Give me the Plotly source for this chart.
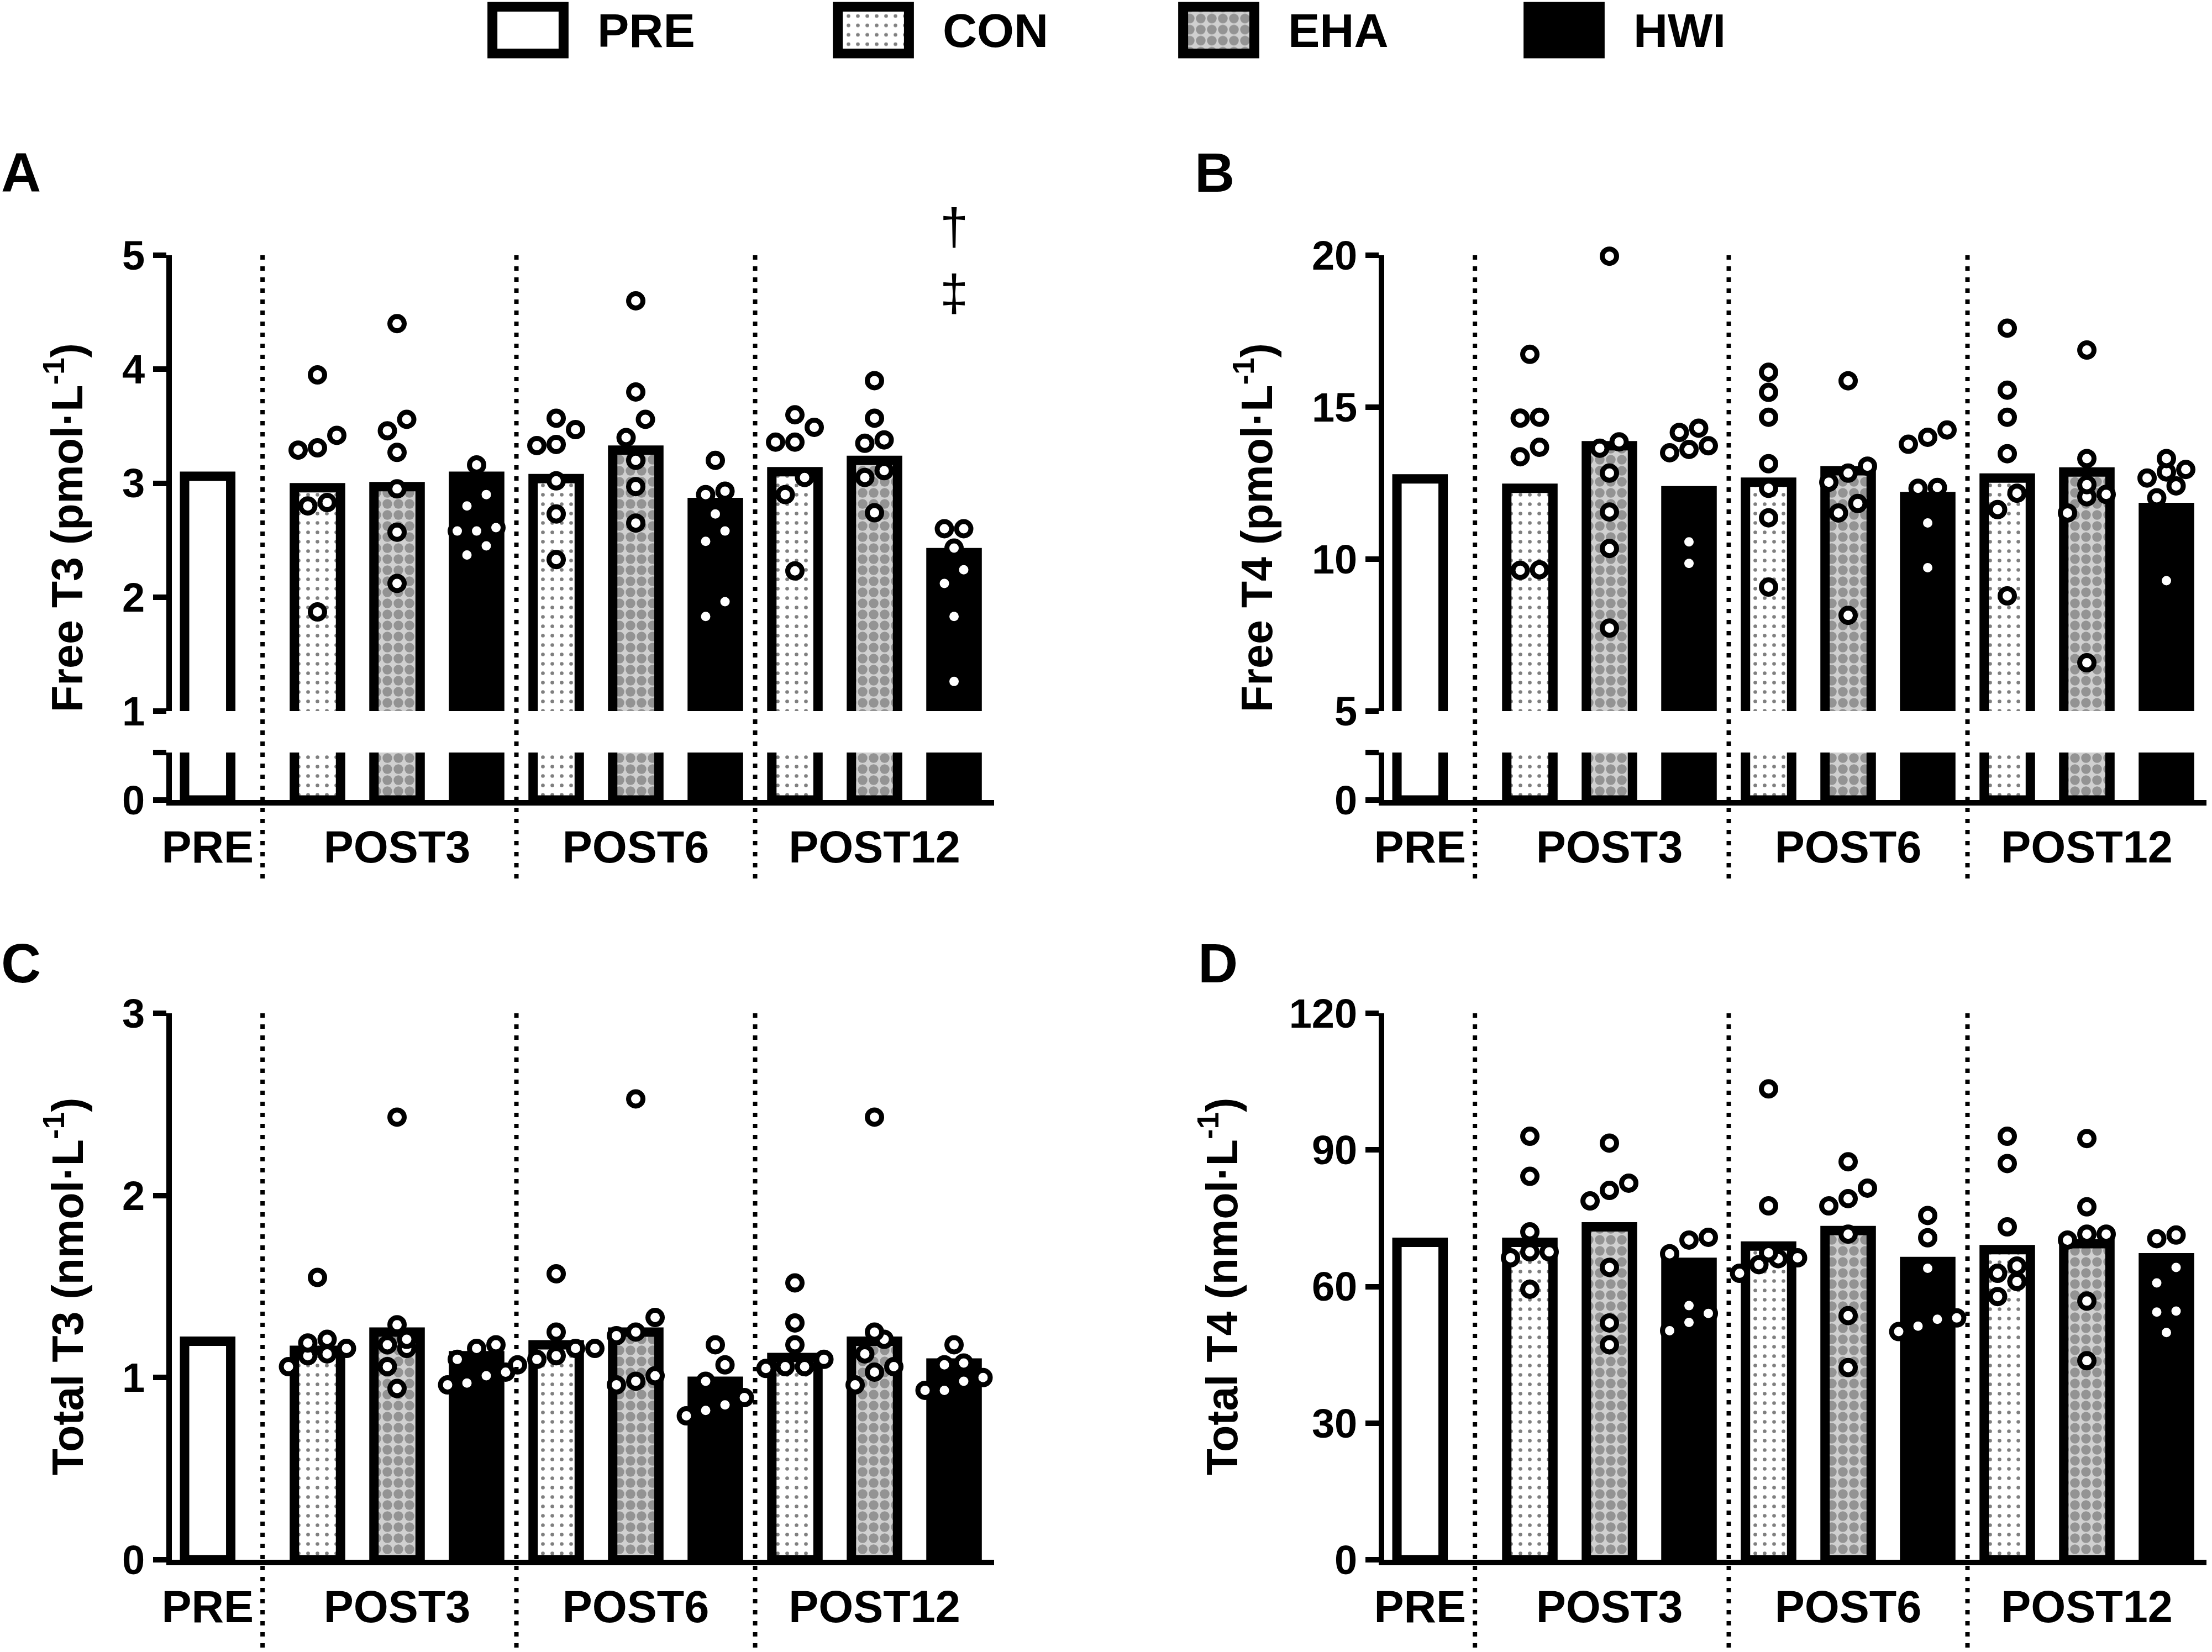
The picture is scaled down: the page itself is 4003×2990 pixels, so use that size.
import plotly.graph_objects as go

W, H = 4003, 2990

TIMES = ["POST3", "POST6", "POST12"]
GROUPS = ["CON", "EHA", "HWI"]
KEYS = ["PRE", "CON", "EHA", "HWI"]

# bar heights: PRE, then CON / EHA / HWI at POST3, POST6, POST12
ft3_bars = [3.06, 2.96, 2.97, 3.06, 3.04, 3.29, 2.83, 3.10, 3.20, 2.39]
ft3_points = [
    [3.42, 3.95, 3.29, 3.31, 2.83, 2.80, 1.87],
    [3.46, 3.56, 3.27, 4.40, 2.95, 2.57, 2.12],
    [3.16, 2.90, 2.80, 2.61, 2.58, 2.58, 2.45, 2.37],
    [3.47, 3.57, 3.33, 3.34, 3.02, 2.73, 2.33],
    [4.60, 3.80, 3.56, 3.40, 3.20, 2.97, 2.65],
    [3.20, 2.93, 2.90, 2.73, 2.58, 2.49, 1.96, 1.83],
    [3.49, 3.60, 3.36, 3.36, 3.05, 2.90, 2.23],
    [3.90, 3.57, 3.38, 3.35, 3.11, 3.05, 2.74],
    [2.60, 2.60, 2.43, 2.24, 2.12, 1.83, 1.26],
]

ft4_bars = [12.64, 12.33, 13.73, 12.25, 12.53, 12.91, 12.06, 12.67, 12.87, 11.70]
ft4_points = [
    [16.74, 14.64, 14.67, 13.37, 13.68, 9.63, 9.65],
    [19.97, 13.65, 13.86, 12.83, 11.55, 10.35, 7.73],
    [14.17, 14.31, 13.61, 13.73, 13.50, 10.57, 9.86],
    [16.15, 15.49, 14.67, 13.14, 12.33, 11.36, 9.08],
    [15.87, 12.83, 13.06, 12.53, 11.83, 11.52, 8.15],
    [13.78, 14.25, 14.01, 12.33, 12.36, 11.19, 9.72],
    [17.60, 15.56, 14.67, 13.47, 12.17, 11.63, 8.79],
    [16.88, 13.31, 12.13, 12.45, 12.05, 11.52, 6.59],
    [12.95, 13.31, 12.87, 12.67, 12.41, 12.02, 9.29],
]

tt3_bars = [1.20, 1.15, 1.25, 1.12, 1.18, 1.25, 0.98, 1.11, 1.20, 1.08]
tt3_points = [
    [1.55, 1.21, 1.19, 1.16, 1.13, 1.12, 1.06],
    [2.43, 1.29, 1.18, 1.21, 1.16, 1.06, 0.94],
    [1.16, 1.18, 1.10, 1.03, 1.01, 0.97, 0.96],
    [1.57, 1.25, 1.16, 1.16, 1.12, 1.07, 1.10],
    [2.53, 1.33, 1.23, 1.25, 1.01, 0.96, 0.98],
    [1.18, 1.07, 0.98, 0.89, 0.79, 0.85, 0.82],
    [1.52, 1.30, 1.18, 1.10, 1.05, 1.06, 1.06],
    [2.43, 1.21, 1.25, 1.13, 1.06, 1.03, 0.96],
    [1.18, 1.07, 1.08, 1.00, 0.98, 0.93, 0.93],
]

tt4_bars = [69.7, 69.7, 73.1, 65.3, 68.9, 72.3, 65.5, 68.1, 69.4, 66.3]
tt4_points = [
    [93.0, 84.2, 72.0, 67.6, 66.3, 67.6, 59.4],
    [91.5, 81.1, 82.7, 78.8, 64.2, 52.0, 47.2],
    [70.8, 70.2, 67.2, 55.8, 54.1, 52.1, 50.3],
    [103.4, 77.7, 67.4, 66.3, 66.1, 62.9, 64.8],
    [87.4, 79.3, 81.6, 77.7, 71.5, 53.6, 42.2],
    [75.6, 70.7, 64.0, 53.1, 52.8, 51.3, 50.1],
    [93.0, 87.0, 73.1, 64.5, 62.9, 61.1, 57.8],
    [92.5, 77.5, 71.5, 71.5, 70.2, 56.8, 43.7],
    [71.3, 70.5, 64.2, 60.8, 54.6, 54.4, 49.9],
]

NARROW = "Liberation Sans Narrow, Arial Narrow, Liberation Sans, Arial, sans-serif"
ARIAL = "Liberation Sans, Arial, sans-serif"

FILL = {
    "PRE": dict(color="white"),
    "CON": dict(color="white", pattern=dict(shape=".", fgcolor="black", bgcolor="white",
                                            size=17, solidity=0.12)),
    "EHA": dict(color="#d0d0d0", pattern=dict(shape=".", fgcolor="#555555", bgcolor="#d0d0d0",
                                              size=20, solidity=0.6)),
    "HWI": dict(color="black"),
}

# x positions: PRE alone, then three groups of three bars
pos = [0.0] + [1.38 + 3 * t + g for t in range(3) for g in range(3)]
keys = ["PRE"] + GROUPS * 3
centres = [pos[0]] + [sum(pos[1 + 3 * t:4 + 3 * t]) / 3 for t in range(3)]
seps = [(pos[3 * t] + pos[3 * t + 1]) / 2 for t in range(3)]
XR = [-0.45, pos[-1] + 0.5]
BAR_W = 0.58
DOT = 35  # px, outer diameter of a point


def ax(name):
    return name[0] + "axis" + name[1:]


def swarm(vals, centre, ppu, xpx):
    # GraphPad-like: points that would overlap vertically sit side by side
    step = DOT / xpx
    thr = DOT / ppu
    order = sorted(vals)
    xs, ys = [], []
    i = 0
    while i < len(order):
        j = i
        while j + 1 < len(order) and order[j + 1] - order[i] < thr:
            j += 1
        n = j - i + 1
        for k in range(n):
            xs.append(centre + (k - (n - 1) / 2) * step)
            ys.append(order[i + k])
        i = j + 1
    return xs, ys


fig = go.Figure()
layout = {}
shapes = []
annotations = []

AX_COMMON = dict(showline=True, linewidth=10, linecolor="black", showgrid=False,
                 zeroline=False, fixedrange=True, automargin=False)
TICKS = dict(ticks="outside", ticklen=24, tickwidth=10, tickcolor="black")
YFONT = dict(family=NARROW, size=74, color="black", weight="bold")


def panel(bars, points, xname, yup, ylow, xdom, updom, lowdom, yrange, yticks,
          title, title_x, letter, letter_x, letter_y, sep_bottom):
    xpx = (xdom[1] - xdom[0]) * W / (XR[1] - XR[0])
    ppu = (updom[1] - updom[0]) * H / (yrange[1] - yrange[0])
    yaxes = [yup] + ([ylow] if ylow else [])
    for yname in yaxes:
        for k in KEYS:
            idx = [i for i, kk in enumerate(keys) if kk == k]
            fig.add_trace(go.Bar(
                x=[pos[i] for i in idx], y=[bars[i] for i in idx], width=BAR_W,
                marker=dict(line=dict(color="black", width=17), **FILL[k]),
                xaxis=xname, yaxis=yname, showlegend=False, hoverinfo="skip"))
    px, py = [], []
    for i, vals in enumerate(points):
        xs, ys = swarm(vals, pos[i + 1], ppu, xpx)
        px += xs
        py += ys
    fig.add_trace(go.Scatter(
        x=px, y=py, mode="markers", cliponaxis=False,
        marker=dict(symbol="circle", size=DOT - 9, color="white",
                    line=dict(color="black", width=9)),
        xaxis=xname, yaxis=yup, showlegend=False, hoverinfo="skip"))

    layout[ax(xname)] = dict(
        domain=xdom, range=XR, anchor=ylow or yup, tickvals=centres,
        ticktext=["PRE"] + TIMES, ticks="", ticklabelstandoff=6,
        tickfont=dict(family=NARROW, size=81, color="black", weight="bold"), **AX_COMMON)
    layout[ax(yup)] = dict(domain=updom, range=yrange, anchor=xname, tickvals=yticks,
                           tickfont=YFONT, **TICKS, **AX_COMMON)
    if ylow:
        # lower stub of the broken axis: label 0, plain tick at the break
        layout[ax(ylow)] = dict(domain=lowdom, range=[0, 1], anchor=xname,
                                tickvals=[0], tickfont=YFONT,
                                minor=dict(tickvals=[1], ticklen=24, tickwidth=10,
                                           tickcolor="black", ticks="outside"),
                                **TICKS, **AX_COMMON)
    bottom = lowdom[0] if ylow else updom[0]
    for s in seps:
        shapes.append(dict(type="line", xref=xname, yref="paper", x0=s, x1=s,
                           y0=updom[1], y1=sep_bottom,
                           line=dict(color="black", width=8, dash="8px,12px")))
    annotations.append(dict(
        text=title, x=title_x, y=(updom[1] + bottom) / 2, xref="paper", yref="paper",
        textangle=-90, showarrow=False, xanchor="center", yanchor="middle",
        font=dict(family=ARIAL, size=79, color="black", weight="bold")))
    annotations.append(dict(
        text=letter, x=letter_x, y=letter_y, xref="paper", yref="paper", showarrow=False,
        xanchor="left", yanchor="middle",
        font=dict(family=NARROW, size=100, color="black", weight="bold")))


XA = [311 / W, (311 + 10.33 * 144) / W]
XB = [2505 / W, (2505 + 10.33 * 144) / W]
UP = [1 - 1287 / H, 1 - 462 / H]
LOW = [1 - 1448 / H, 1 - 1362 / H]
LOWER = [1 - 2823 / H, 1 - 1834 / H]

panel(ft3_bars, ft3_points, "x", "y", "y2", XA, UP, LOW, [1, 5], [1, 2, 3, 4, 5],
      "Free T3 (pmol·L<sup>-1</sup>)", 116 / W, "A", 0.0, 1 - 312 / H, 1 - 1600 / H)
panel(ft4_bars, ft4_points, "x2", "y3", "y4", XB, UP, LOW, [5, 20], [5, 10, 15, 20],
      "Free T4 (pmol·L<sup>-1</sup>)", 2269 / W, "B", 2160 / W, 1 - 312 / H, 1 - 1600 / H)
panel(tt3_bars, tt3_points, "x3", "y5", None, XA, LOWER, None, [0, 3], [0, 1, 2, 3],
      "Total T3 (nmol·L<sup>-1</sup>)", 116 / W, "C", 0.0, 1 - 1743 / H, 0.002)
panel(tt4_bars, tt4_points, "x4", "y6", None, XB, LOWER, None, [0, 120],
      [0, 30, 60, 90, 120],
      "Total T4 (nmol·L<sup>-1</sup>)", 2205 / W, "D", 2166 / W, 1 - 1743 / H, 0.002)

# significance marks above HWI at POST12 in panel A
annotations.append(dict(text="†<br>‡", x=pos[-1], y=4.96, xref="x", yref="y",
                        showarrow=False, xanchor="center", yanchor="middle",
                        font=dict(family=ARIAL, size=92, color="black")))

# legend drawn as boxes on a hidden axis
for i, k in enumerate(KEYS):
    fig.add_trace(go.Bar(
        x=[i], y=[1], width=0.206,
        marker=dict(line=dict(color="black", width=18), **FILL[k]),
        xaxis="x5", yaxis="y7", showlegend=False, hoverinfo="skip"))
    annotations.append(dict(
        text=k, x=i + 0.197, y=0.5, xref="x5", yref="y7", showarrow=False,
        xanchor="left", yanchor="middle",
        font=dict(family=ARIAL, size=86, color="black", weight="bold")))
layout["xaxis5"] = dict(domain=[643 / W, 3143 / W], range=[-0.5, 3.5], visible=False,
                        anchor="y7", fixedrange=True, automargin=False)
layout["yaxis7"] = dict(domain=[1 - 105.5 / H, 1 - 3.5 / H], range=[-0.1, 1.1],
                        visible=False, anchor="x5", fixedrange=True, automargin=False)

fig.update_layout(
    width=W, height=H, autosize=False,
    margin=dict(l=0, r=0, t=0, b=0, autoexpand=False),
    paper_bgcolor="white", plot_bgcolor="white",
    showlegend=False, shapes=shapes, annotations=annotations,
    **layout)

fig.write_html("out.html", config={"displayModeBar": False},
               post_script="document.body.style.margin='0';"
                           "document.body.style.overflow='hidden';")
